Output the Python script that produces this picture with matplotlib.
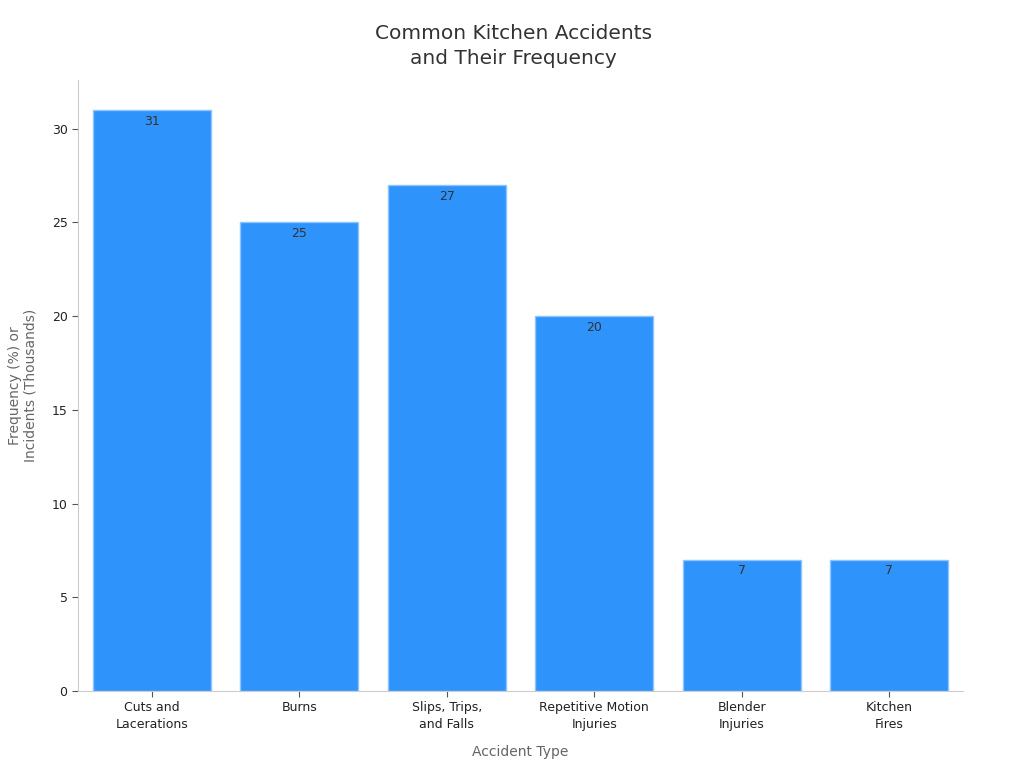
import matplotlib
matplotlib.use("Agg")
import matplotlib.pyplot as plt

categories = ["Cuts and\nLacerations", "Burns", "Slips, Trips,\nand Falls",
              "Repetitive Motion\nInjuries", "Blender\nInjuries", "Kitchen\nFires"]
values = [31, 25, 27, 20, 7, 7]
yticks = [0, 5, 10, 15, 20, 25, 30]

fig = plt.figure(figsize=(10.24, 7.68), dpi=100)
ax = fig.add_axes([0.0762, 0.1003, 0.8642, 0.7955])

x = list(range(len(categories)))
bars = ax.bar(x, values, width=0.8, color="#2E93FA", edgecolor="#8cc4fb", linewidth=1)
for xi, v in zip(x, values):
    ax.text(xi, v - 0.25, str(v), ha="center", va="top", fontsize=9, color="#333333")

ax.set_xlim(-0.5, 5.5)
ax.set_ylim(0, 32.6)
ax.set_xticks(x)
ax.set_xticklabels(categories, fontsize=9, color="#222222", linespacing=1.35)
ax.set_yticks(yticks)
ax.set_yticklabels([str(t) for t in yticks], fontsize=9, color="#222222")
ax.tick_params(axis="both", colors="#555555", labelcolor="#222222", length=4)

for s in ["top", "right"]:
    ax.spines[s].set_visible(False)
for s in ["left", "bottom"]:
    ax.spines[s].set_color("#cccccc")

ax.set_xlabel("Accident Type", fontsize=10, color="#666666", labelpad=10)
ax.set_ylabel("Frequency (%) or\nIncidents (Thousands)", fontsize=10, color="#666666", labelpad=10)
fig.text(0.5015, 1 - 46 / 768, "Common Kitchen Accidents\nand Their Frequency", fontsize=14.5,
         color="#333333", ha="center", va="center", linespacing=1.45)

fig.savefig("out.png", dpi=100)
